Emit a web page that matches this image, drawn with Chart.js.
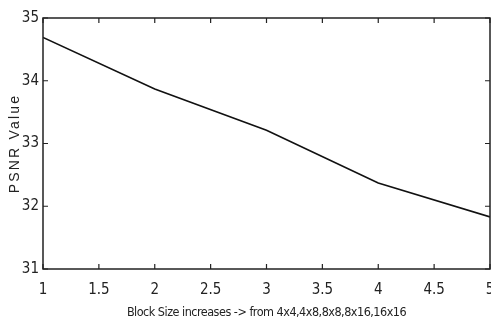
<!DOCTYPE html>
<html>
<head>
<meta charset="utf-8">
<script src="https://cdn.jsdelivr.net/npm/chart.js@4.4.1/dist/chart.umd.min.js"></script>
<style>
html, body { margin: 0; padding: 0; background: #fff; }
#wrap { width: 491px; height: 327px; }
</style>
</head>
<body>
<div id="wrap"><canvas id="myChart"></canvas></div>
<script>
var blockSteps = [1, 2, 3, 4, 5]
var psnrValues = [34.69, 33.87, 33.21, 32.37, 31.83]
var xTicks = [1, 1.5, 2, 2.5, 3, 3.5, 4, 4.5, 5]
var yTicks = [31, 32, 33, 34, 35]

var narrow = "'Liberation Sans Narrow', 'DejaVu Sans Condensed', sans-serif"

// matlab style box with ticks pointing inward
var boxTicks = {
  id: 'boxTicks',
  afterDraw: function(chart) {
    var ctx = chart.ctx, a = chart.chartArea
    var xs = chart.scales.x, ys = chart.scales.y
    ctx.save()
    ctx.strokeStyle = '#222'
    ctx.lineWidth = 1.5
    ctx.strokeRect(a.left, a.top, a.right - a.left, a.bottom - a.top)
    ctx.lineWidth = 1.2
    ctx.beginPath()
    xs.ticks.forEach(function(t) {
      var px = xs.getPixelForValue(t.value)
      ctx.moveTo(px, a.bottom); ctx.lineTo(px, a.bottom - 5)
      ctx.moveTo(px, a.top); ctx.lineTo(px, a.top + 5)
    })
    ys.ticks.forEach(function(t) {
      var py = ys.getPixelForValue(t.value)
      ctx.moveTo(a.left, py); ctx.lineTo(a.left + 5, py)
      ctx.moveTo(a.right, py); ctx.lineTo(a.right - 5, py)
    })
    ctx.stroke()
    ctx.restore()
  }
}

// draw an axis title with extra letter spacing
function spaceTitle(s, spacing) {
  var orig = s.drawTitle
  s.drawTitle = function() {
    this.ctx.save()
    this.ctx.letterSpacing = spacing
    orig.apply(this, arguments)
    this.ctx.restore()
  }
}

var points = blockSteps.map(function(b, i) { return {x: b, y: psnrValues[i]} })

var chart = new Chart('myChart', {
  type: 'line',
  data: {
    datasets: [{
      data: points,
      borderColor: '#111',
      borderWidth: 1.6,
      backgroundColor: 'transparent',
      pointRadius: 0,
      tension: 0
    }]
  },
  options: {
    responsive: true,
    maintainAspectRatio: false,
    animation: false,
    layout: { padding: { top: 18, right: 1, left: 0, bottom: 0 } },
    plugins: { legend: { display: false }, tooltip: { enabled: false } },
    scales: {
      x: {
        type: 'linear',
        min: 1, max: 5,
        afterBuildTicks: function(s) { s.ticks = xTicks.map(function(v) { return {value: v} }) },
        afterFit: function(s) {
          s.height = 58; s.paddingLeft = 0; s.paddingRight = 0
          spaceTitle(s, '-0.5px')
        },
        grid: { display: false, drawTicks: false },
        border: { display: false },
        ticks: {
          color: '#222', padding: 12, maxRotation: 0, autoSkip: false,
          font: { family: narrow, size: 15 },
          callback: function(v) { return String(v) }
        },
        title: {
          display: true,
          text: 'Block Size increases -> from 4x4,4x8,8x8,8x16,16x16',
          color: '#222',
          font: { family: narrow, size: 12.5 },
          padding: { top: 0, bottom: 7 }
        }
      },
      y: {
        min: 31, max: 35,
        afterBuildTicks: function(s) { s.ticks = yTicks.map(function(v) { return {value: v} }) },
        afterFit: function(s) {
          s.width = 43
          spaceTitle(s, '2.2px')
        },
        grid: { display: false, drawTicks: false },
        border: { display: false },
        ticks: {
          color: '#222', padding: 4,
          font: { family: narrow, size: 15 },
          callback: function(v) { return String(v) }
        },
        title: {
          display: true,
          text: 'PSNR Value',
          color: '#222',
          font: { family: "'Liberation Sans', Arial, sans-serif", size: 14 },
          padding: { top: 7, bottom: 0 }
        }
      }
    }
  },
  plugins: [boxTicks]
})
</script>
</body>
</html>
